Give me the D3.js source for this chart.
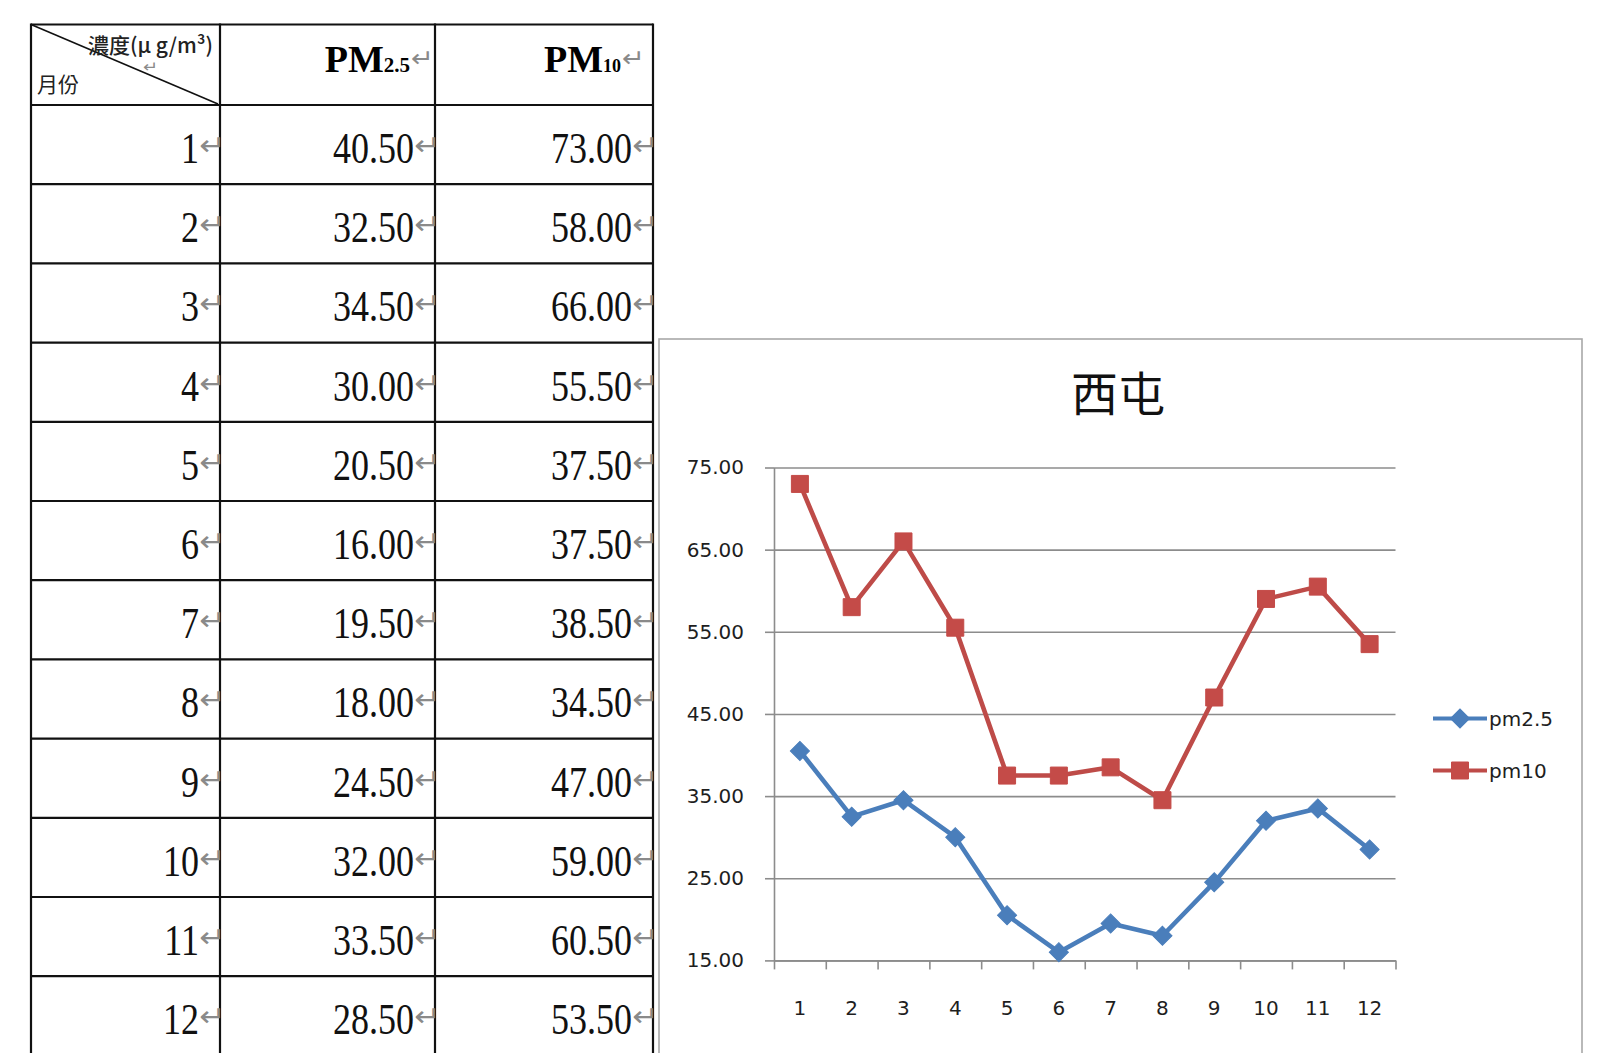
<!DOCTYPE html>
<html>
<head>
<meta charset="utf-8">
<script src="https://cdn.jsdelivr.net/npm/d3@7"></script>
<style>
  html, body { margin: 0; padding: 0; background: #fff; overflow: hidden; }
  svg { display: block; }
</style>
</head>
<body>
<svg id="c" width="1597" height="1053"></svg>
<script>
// Monthly PM concentrations (μg/m³), 西屯 station
const months = ["1", "2", "3", "4", "5", "6", "7", "8", "9", "10", "11", "12"];
const pm25 = [40.5, 32.5, 34.5, 30.0, 20.5, 16.0, 19.5, 18.0, 24.5, 32.0, 33.5, 28.5];
const pm10 = [73.0, 58.0, 66.0, 55.5, 37.5, 37.5, 38.5, 34.5, 47.0, 59.0, 60.5, 53.5];
const seriesNames = ["pm2.5", "pm10"];
const yTicks = [15, 25, 35, 45, 55, 65, 75];
const chartTitle = "西屯";
const headUnit = "濃度(μ g/m³)";
const headMonth = "月份";
const headCols = [["PM", "2.5"], ["PM", "10"]];

const svg = d3.select("#c");
const fmt = d3.format(".2f");
const RET = "\u21B5";
const RET_COLOR = "#8a8a8a";

// paragraph-return mark, anchored at its left edge and baseline
function retMark(parent, x0, y0, size, sx = 1.05, sy = 0.95) {
  parent.append("g")
    .attr("transform", `translate(${x0},${y0}) scale(${sx},${sy})`)
    .append("text")
    .attr("font-family", "DejaVu Sans").attr("font-size", size)
    .attr("fill", RET_COLOR).text(RET);
}

/* ---------------- data table ---------------- */
const colEdges = [31, 220, 435, 653];
const headTop = 24.5, headBottom = 105, rowStep = 79.2;
const rowY = d3.scaleLinear().domain([0, 1]).range([headBottom, headBottom + rowStep]);
const tbl = svg.append("g");

// grid lines
const hLines = [headTop].concat(d3.range(0, months.length + 1).map(rowY));
tbl.selectAll("line.h").data(hLines).join("line")
  .attr("x1", colEdges[0]).attr("x2", colEdges[3])
  .attr("y1", d => d).attr("y2", d => d)
  .attr("stroke", "#111").attr("stroke-width", 2.2);
tbl.selectAll("line.v").data(colEdges).join("line")
  .attr("x1", d => d).attr("x2", d => d)
  .attr("y1", headTop - 1.1).attr("y2", rowY(months.length))
  .attr("stroke", "#111").attr("stroke-width", 2.2);

// corner header cell with diagonal split
tbl.append("line")
  .attr("x1", colEdges[0]).attr("y1", headTop)
  .attr("x2", colEdges[1] - 2).attr("y2", headBottom - 1)
  .attr("stroke", "#111").attr("stroke-width", 1.6);
tbl.append("text")
  .attr("x", 213).attr("y", 53)
  .attr("text-anchor", "end")
  .attr("font-family", "Noto Sans CJK TC").attr("font-size", 21)
  .attr("font-weight", 500)
  .attr("fill", "#222").text(headUnit);
retMark(tbl, 143, 72, 18, 1, 0.85);
tbl.append("text")
  .attr("x", 37).attr("y", 92)
  .attr("font-family", "Noto Sans CJK TC").attr("font-size", 21)
  .attr("fill", "#222").text(headMonth);

// PM column headers
const subEnd = [25, 32];
headCols.forEach((h, k) => {
  const right = colEdges[k + 2];
  tbl.append("text")
    .attr("x", right - subEnd[k]).attr("y", 72)
    .attr("text-anchor", "end")
    .attr("font-family", "Liberation Serif").attr("font-weight", "bold")
    .attr("fill", "#000")
    .call(t => {
      t.append("tspan").attr("font-size", 38).text(h[0]);
      t.append("tspan").attr("font-size", k === 0 ? 21 : 18).text(h[1]);
    });
  retMark(tbl, right - subEnd[k] + 1, 67, 26);
});

// body cells: month, PM2.5, PM10
const rows = months.map((m, i) => [m, fmt(pm25[i]), fmt(pm10[i])]);
rows.forEach((r, i) => {
  const base = rowY(i) + 58;
  r.forEach((v, k) => {
    const right = colEdges[k + 1];
    tbl.append("g")
      .attr("transform", `translate(${right - 21},${base}) scale(0.8,1)`)
      .append("text")
      .attr("text-anchor", "end")
      .attr("font-family", "Liberation Serif").attr("font-size", 45)
      .attr("fill", "#111").text(v);
    retMark(tbl, right - 21, base - 8, 30);
  });
});

/* ---------------- line chart ---------------- */
const box = { x: 659, y: 339, w: 923, h: 800 };
svg.append("rect")
  .attr("x", box.x).attr("y", box.y).attr("width", box.w).attr("height", box.h)
  .attr("fill", "#fff").attr("stroke", "#a8a8a8").attr("stroke-width", 1.6);

const plot = { left: 774, right: 1395.5, top: 467.5, bottom: 960.4 };
const x = d3.scaleBand().domain(months).range([plot.left, plot.right]);
const y = d3.scaleLinear().domain([15, 75]).range([plot.bottom, plot.top]);
const AX = "#8c8c8c";

svg.append("text")
  .attr("x", 1118).attr("y", 411)
  .attr("text-anchor", "middle")
  .attr("font-family", "Noto Sans CJK TC").attr("font-size", 47)
  .attr("fill", "#111").text(chartTitle);

// horizontal gridlines
const grid = svg.append("g").attr("transform", `translate(${plot.left},0)`)
  .call(d3.axisLeft(y).tickValues(yTicks).tickFormat("")
    .tickSizeInner(-(plot.right - plot.left)).tickSizeOuter(0));
grid.select(".domain").remove();
grid.selectAll("line").attr("stroke", AX).attr("stroke-width", 1.6);

// value axis
const yAxis = svg.append("g").attr("transform", `translate(${plot.left},0)`)
  .call(d3.axisLeft(y).tickValues(yTicks).tickFormat(fmt)
    .tickSizeInner(9).tickSizeOuter(0).tickPadding(21));
yAxis.select(".domain").attr("stroke", AX).attr("stroke-width", 1.6);
yAxis.selectAll("line").attr("stroke", AX).attr("stroke-width", 1.6);
yAxis.selectAll("text")
  .attr("font-family", "DejaVu Sans").attr("font-size", 20).attr("fill", "#1e1e1e");

// category axis: labels centred in bands, ticks on band edges
const xAxis = svg.append("g").attr("transform", `translate(0,${plot.bottom})`)
  .call(d3.axisBottom(x).tickSize(0).tickPadding(40));
xAxis.select(".domain").remove();
xAxis.selectAll("text")
  .attr("font-family", "DejaVu Sans").attr("font-size", 20).attr("fill", "#1e1e1e");

const edge = d3.scaleLinear().domain([0, months.length]).range([plot.left, plot.right]);
const xTicks = svg.append("g").attr("transform", `translate(0,${plot.bottom})`)
  .call(d3.axisBottom(edge).tickValues(d3.range(months.length + 1))
    .tickFormat("").tickSizeInner(9).tickSizeOuter(0));
xTicks.select(".domain").attr("stroke", AX).attr("stroke-width", 1.6);
xTicks.selectAll("line").attr("stroke", AX).attr("stroke-width", 1.6);

// series
const series = [
  { name: seriesNames[0], values: pm25, line: "#4A7EBB", fill: "#4A7EBB",
    symbol: d3.symbol(d3.symbolSquare, 13.5 * 13.5), rotate: 45 },
  { name: seriesNames[1], values: pm10, line: "#BE4B48", fill: "#C44B48",
    symbol: d3.symbol(d3.symbolSquare, 17 * 17), rotate: 0 }
];
const cx = i => x(months[i]) + x.bandwidth() / 2;
const line = d3.line().x((d, i) => cx(i)).y(d => y(d));

series.forEach(s => {
  const g = svg.append("g");
  g.append("path").datum(s.values)
    .attr("d", line).attr("fill", "none")
    .attr("stroke", s.line).attr("stroke-width", 4.6)
    .attr("stroke-linejoin", "round");
  g.selectAll("path.m").data(s.values).join("path")
    .attr("class", "m")
    .attr("d", s.symbol())
    .attr("transform", (d, i) => `translate(${cx(i)},${y(d)}) rotate(${s.rotate})`)
    .attr("fill", s.fill).attr("stroke", s.fill).attr("stroke-width", 1);
});

// legend
const legY = [718.5, 770.5];
series.forEach((s, k) => {
  const g = svg.append("g").attr("transform", `translate(0,${legY[k]})`);
  g.append("line").attr("x1", 1433).attr("x2", 1487)
    .attr("stroke", s.line).attr("stroke-width", 4.2);
  g.append("path").attr("d", s.symbol())
    .attr("transform", `translate(1460,0) rotate(${s.rotate})`)
    .attr("fill", s.fill).attr("stroke", s.fill).attr("stroke-width", 1);
  g.append("text").attr("x", 1489).attr("y", 7.5)
    .attr("font-family", "DejaVu Sans").attr("font-size", 20)
    .attr("fill", "#1e1e1e").text(s.name);
});
</script>
</body>
</html>
